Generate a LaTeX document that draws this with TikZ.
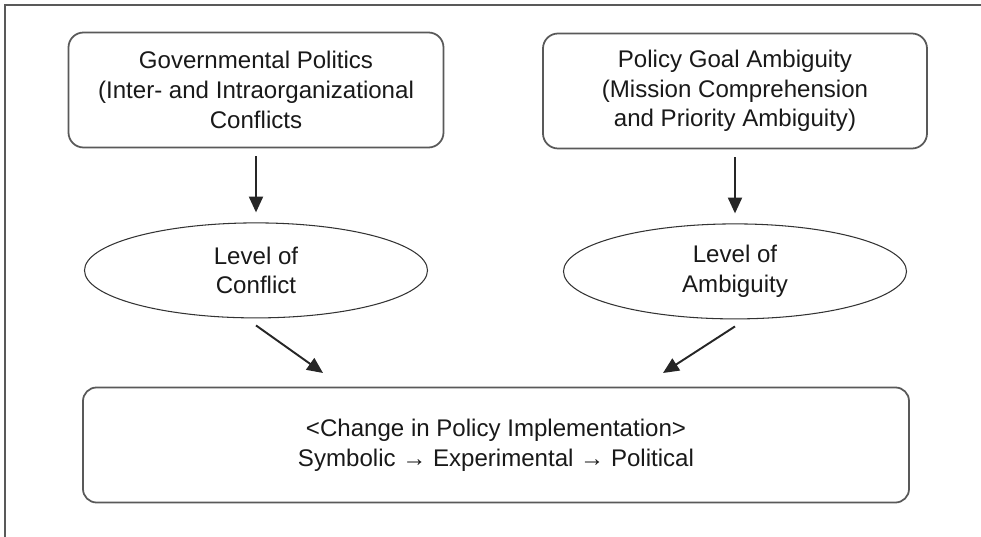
\documentclass[tikz,border=0pt]{standalone}
\usepackage{fontspec}
\setmainfont{Liberation Sans}
\usetikzlibrary{positioning}
\usetikzlibrary{arrows.meta}
\usetikzlibrary{shapes.geometric}
\tikzset{edge/.style = {->,> = {Triangle[length=9pt,width=8pt]},line width=1.1pt,draw=black!85}}

\begin{document}
\begin{tikzpicture}[node distance=1.48cm,font=\fontsize{13.7}{16.9}\selectfont,text=black!90,
    box node/.style={rectangle,rounded corners=0.3cm,draw=black!65,line width=1pt,minimum height=2.3cm,align=center,inner sep=0pt},
    oval node/.style={ellipse,draw=black!80,line width=0.6pt,minimum width=6.86cm,minimum height=1.9cm,align=center,inner sep=0pt}]
            \useasboundingbox (0,0) rectangle (19.62,10.74);
            \draw[black!65,line width=1pt] (0.1,0) |- (19.62,10.64);
            \node[box node,minimum width=7.5cm] (1) at (5.12,8.94) {Governmental Politics\\(Inter- and Intraorganizational\\Conflicts};
            \node[box node,minimum width=7.68cm] (2) at (14.7,8.92) {Policy Goal Ambiguity\\(Mission Comprehension\\and Priority Ambiguity)};
            \node[oval node] (3) [below=of 1] {Level of\\Conflict};
            \node[oval node] (4) [below=of 2] {Level of\\Ambiguity};
            \node[box node,minimum width=16.52cm,rounded corners=0.27cm] (5) at (9.92,1.84) {<Change in Policy Implementation>\\Symbolic → Experimental → Political};
            \coordinate (6) at (6.46,3.28);
            \coordinate (7) at (13.26,3.28);
            \draw[edge,shorten <=0.16cm,shorten >=0.2cm] (1) -- (3);
            \draw[edge,shorten <=0.16cm,shorten >=0.2cm] (2) -- (4);
            \draw[edge] ([yshift=-0.14cm]3.south) -- (6);
            \draw[edge] ([yshift=-0.14cm]4.south) -- (7);
        \end{tikzpicture}
\end{document}
